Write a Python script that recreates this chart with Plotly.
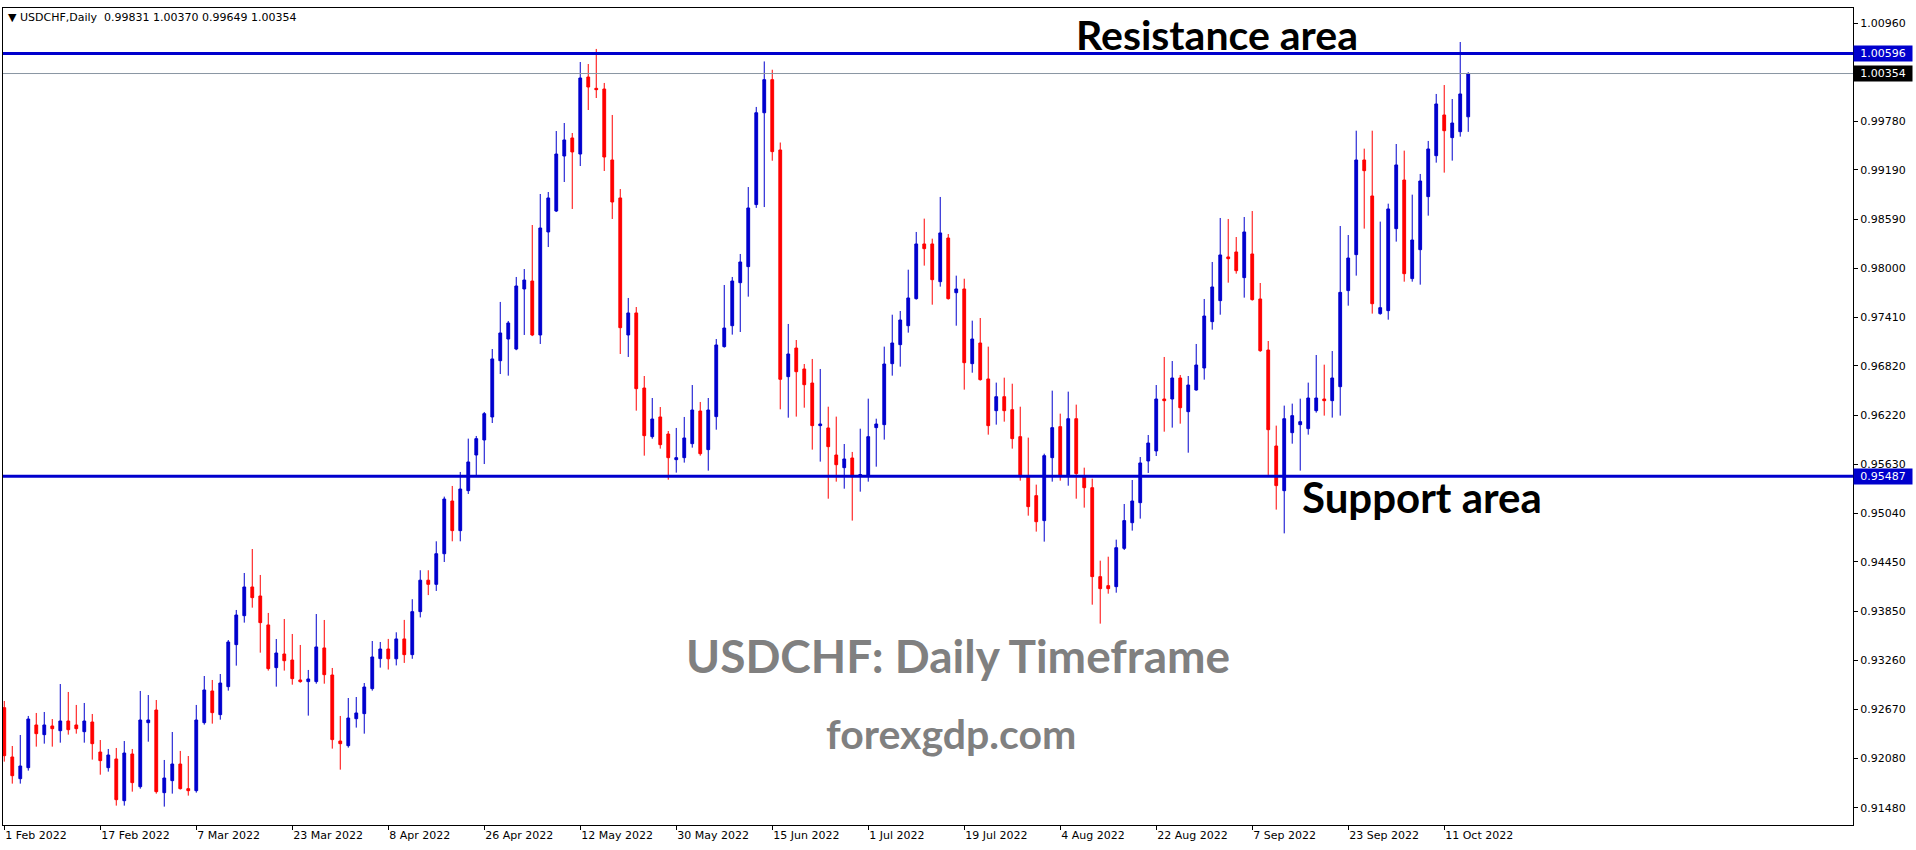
import plotly.graph_objects as go

# ---------------- data ----------------
open_ = [
0.92689,0.92093,0.91831,0.91964,0.92480,0.92363,0.92468,0.92411,0.92528,0.92480,
0.92399,0.92516,0.92153,0.91964,0.92069,0.91565,0.92129,0.91734,0.92508,0.92661,
0.91662,0.91807,0.92008,0.91710,0.91686,0.92508,0.92891,0.92605,0.92943,0.93451,
0.93801,0.94148,0.94039,0.93689,0.93173,0.93338,0.93265,0.93024,0.93004,0.93004,
0.93411,0.93084,0.92286,0.92230,0.92556,0.92617,0.92919,0.93282,0.93398,0.93280,
0.93520,0.93330,0.93850,0.94230,0.94180,0.94550,0.95187,0.94829,0.95312,0.95743,
0.95925,0.96203,0.96883,0.97145,0.97024,0.97750,0.97846,0.97194,0.98439,0.98692,
0.99357,0.99575,0.99381,1.00312,1.00175,1.00167,0.99309,0.98850,0.97194,0.97460,
0.96553,0.95965,0.96203,0.95997,0.95687,0.95711,0.95880,0.96275,0.95808,0.96207,
0.97053,0.97306,0.97826,0.98020,0.98770,0.99880,1.00280,0.99430,0.96690,0.97036,
0.96783,0.96613,0.96098,0.96070,0.95743,0.95590,0.95707,0.95489,0.95489,0.96074,
0.96110,0.96847,0.97077,0.97306,0.97633,0.98294,0.98294,0.97838,0.98366,0.97705,
0.97750,0.96847,0.97097,0.96662,0.96279,0.96448,0.96291,0.95965,0.95481,0.95252,
0.94950,0.95711,0.96086,0.95502,0.96182,0.95481,0.95348,0.94273,0.94164,0.94152,
0.94615,0.94925,0.95167,0.95671,0.95792,0.96420,0.96420,0.96674,0.96267,0.96529,
0.96795,0.97355,0.97609,0.98137,0.98197,0.97887,0.98173,0.97629,0.97012,0.95852,
0.95312,0.96013,0.96110,0.96062,0.96279,0.96420,0.96400,0.96569,0.97730,0.98165,
0.99309,0.98874,0.97452,0.97488,0.98479,0.99067,0.97875,0.98225,0.98866,0.99361,
0.99853,0.99579,0.99651,0.99831]
high = [
0.92770,0.92226,0.92359,0.92589,0.92625,0.92637,0.92552,0.92975,0.92879,0.92722,
0.92746,0.92613,0.92298,0.92190,0.92202,0.92286,0.92190,0.92891,0.92842,0.92782,
0.92057,0.92395,0.92166,0.92105,0.92722,0.93072,0.93024,0.93096,0.93507,0.93870,
0.94317,0.94607,0.94293,0.93834,0.93519,0.93761,0.93580,0.93447,0.93145,0.93821,
0.93749,0.93169,0.92589,0.92806,0.92818,0.92987,0.93495,0.93483,0.93520,0.93600,
0.93750,0.94000,0.94350,0.94350,0.94700,0.95240,0.95369,0.95538,0.95941,0.95973,
0.96263,0.97024,0.97593,0.97363,0.97895,0.97991,0.98523,0.98898,0.98922,0.99659,
0.99756,0.99635,1.00493,1.00469,1.00651,1.00240,0.99853,0.98958,0.97641,0.97532,
0.96698,0.96432,0.96323,0.96033,0.96070,0.96203,0.96589,0.96384,0.96432,0.97145,
0.97798,0.97895,0.98173,0.98982,0.99950,1.00500,1.00400,0.99520,0.97327,0.97133,
0.96843,0.96904,0.96783,0.96327,0.96207,0.95876,0.95780,0.96061,0.96424,0.96182,
0.97053,0.97439,0.97484,0.97983,0.98439,0.98600,0.98358,0.98862,0.98414,0.97911,
0.97874,0.97367,0.97399,0.97053,0.96618,0.96678,0.96605,0.96327,0.95953,0.95385,
0.95759,0.96521,0.96243,0.96509,0.96352,0.95590,0.95457,0.94466,0.94514,0.94720,
0.95151,0.95441,0.95719,0.95985,0.96589,0.96928,0.96879,0.96710,0.96698,0.97085,
0.97629,0.98076,0.98608,0.98596,0.98378,0.98620,0.98692,0.97822,0.97121,0.96098,
0.96340,0.96364,0.96424,0.96618,0.96952,0.96835,0.97000,0.98511,0.98402,0.99663,
0.99446,0.99663,0.98564,0.98781,0.99502,0.99422,0.98890,0.99140,0.99539,1.00107,
1.00215,1.00046,1.00735,1.00370]
low = [
0.92037,0.91771,0.91771,0.91928,0.92218,0.92254,0.92218,0.92266,0.92363,0.92375,
0.92266,0.92061,0.91879,0.91916,0.91505,0.91505,0.91674,0.91710,0.92278,0.91650,
0.91493,0.91650,0.91700,0.91626,0.91662,0.92484,0.92496,0.92544,0.92895,0.93197,
0.93717,0.93898,0.93354,0.93137,0.92943,0.93137,0.92967,0.92991,0.92593,0.92979,
0.92979,0.92194,0.91940,0.92206,0.92448,0.92375,0.92895,0.93173,0.93150,0.93200,
0.93230,0.93280,0.93780,0.94050,0.94100,0.94450,0.94700,0.94700,0.95272,0.95489,
0.95634,0.96130,0.96722,0.96702,0.97010,0.97194,0.97180,0.97085,0.98257,0.98680,
0.99043,0.98717,0.99236,0.99913,1.00058,0.99176,0.98596,0.96964,0.96928,0.96279,
0.95735,0.95940,0.95820,0.95445,0.95530,0.95651,0.95832,0.95735,0.95554,0.96049,
0.97041,0.97198,0.97230,0.97657,0.98730,0.98740,0.99300,0.96295,0.96194,0.96207,
0.96315,0.95808,0.95663,0.95215,0.95421,0.95336,0.94950,0.95300,0.95421,0.95602,
0.95929,0.96702,0.96811,0.97222,0.97621,0.98032,0.97560,0.97778,0.97621,0.97306,
0.96533,0.96738,0.96642,0.95989,0.96110,0.96146,0.95820,0.95433,0.95010,0.94817,
0.94696,0.95421,0.95433,0.95372,0.95215,0.95107,0.93934,0.93705,0.94067,0.94079,
0.94595,0.94829,0.94974,0.95526,0.95731,0.96025,0.96074,0.96122,0.95771,0.96521,
0.96654,0.97258,0.97439,0.97826,0.97935,0.97645,0.97609,0.96990,0.95502,0.95083,
0.94796,0.95880,0.95554,0.95989,0.96255,0.96219,0.96195,0.96219,0.97548,0.97911,
0.98479,0.97452,0.97439,0.97379,0.98322,0.97838,0.97838,0.97802,0.98636,0.99277,
0.99156,0.99301,0.99591,0.99649]
close = [
0.92109,0.91867,0.91984,0.92552,0.92375,0.92480,0.92435,0.92528,0.92423,0.92435,
0.92528,0.92254,0.92049,0.92117,0.91577,0.92141,0.91783,0.92540,0.92540,0.91674,
0.91839,0.92008,0.91710,0.91686,0.92540,0.92903,0.92629,0.92987,0.93483,0.93809,
0.94148,0.94019,0.93717,0.93161,0.93350,0.93257,0.93040,0.93004,0.93036,0.93423,
0.93088,0.92303,0.92254,0.92564,0.92625,0.92939,0.93302,0.93398,0.93280,0.93520,
0.93330,0.93850,0.94230,0.94180,0.94550,0.95211,0.94829,0.95332,0.95659,0.95941,
0.96243,0.96904,0.97218,0.97339,0.97786,0.97858,0.97194,0.98487,0.98850,0.99381,
0.99551,0.99406,1.00300,1.00191,1.00159,0.99345,0.98801,0.97282,0.97460,0.96545,
0.95977,0.96178,0.95868,0.95711,0.95711,0.95949,0.96287,0.95759,0.96287,0.97073,
0.97278,0.97846,0.98076,0.98729,0.99880,1.00280,0.99410,0.96658,0.96964,0.96750,
0.96593,0.96098,0.96118,0.95844,0.95626,0.95695,0.95481,0.95506,0.95965,0.96118,
0.96843,0.97097,0.97375,0.97641,0.98294,0.98237,0.97862,0.98427,0.97633,0.97750,
0.96859,0.97145,0.96654,0.96098,0.96448,0.96279,0.95941,0.95481,0.95119,0.94937,
0.95735,0.96074,0.95502,0.96182,0.95518,0.95348,0.94273,0.94128,0.94128,0.94623,
0.94950,0.95187,0.95647,0.95888,0.96420,0.96400,0.96674,0.96315,0.96589,0.96831,
0.97423,0.97774,0.98161,0.98116,0.97971,0.98439,0.97621,0.97004,0.96049,0.95373,
0.96182,0.96219,0.96146,0.96432,0.96432,0.96400,0.96674,0.97709,0.98124,0.99309,
0.99180,0.97572,0.97524,0.98717,0.99249,0.97935,0.98342,0.99055,0.99442,0.99986,
0.99663,0.99756,1.00107,1.00354]

bar_index = list(range(len(close)))

date_tick_pos = [0, 12, 24, 36, 48, 60, 72, 84, 96, 108, 120, 132, 144, 156, 168, 180]
date_tick_labels = ["1 Feb 2022", "17 Feb 2022", "7 Mar 2022", "23 Mar 2022", "8 Apr 2022",
                    "26 Apr 2022", "12 May 2022", "30 May 2022", "15 Jun 2022", "1 Jul 2022",
                    "19 Jul 2022", "4 Aug 2022", "22 Aug 2022", "7 Sep 2022", "23 Sep 2022",
                    "11 Oct 2022"]

price_ticks = [1.00960, 0.99780, 0.99190, 0.98590, 0.98000, 0.97410, 0.96820, 0.96220,
               0.95630, 0.95040, 0.94450, 0.93850, 0.93260, 0.92670, 0.92080, 0.91480]
price_tick_labels = ["%.5f" % v for v in price_ticks]

resistance_level = 1.00596
support_level = 0.95487
bid_level = 1.00354

header_text = "\u25bc USDCHF,Daily  0.99831 1.00370 0.99649 1.00354"

BLUE = "#0000CD"
RED = "#FF0000"

fig = go.Figure()
fig.add_trace(go.Candlestick(
    x=bar_index, open=open_, high=high, low=low, close=close,
    increasing=dict(line=dict(color=BLUE, width=1), fillcolor=BLUE),
    decreasing=dict(line=dict(color=RED, width=1), fillcolor=RED),
    whiskerwidth=0, hoverinfo="skip", showlegend=False,
))

# level lines
for lvl, col, w in [(resistance_level, BLUE, 3), (support_level, BLUE, 3), (bid_level, "#8A96A2", 1)]:
    fig.add_shape(type="line", xref="paper", x0=0, x1=1, yref="y", y0=lvl, y1=lvl,
                  line=dict(color=col, width=w), layer="above")

# price boxes on the axis
for lvl, bg in [(resistance_level, BLUE), (bid_level, "#000000"), (support_level, BLUE)]:
    fig.add_annotation(xref="paper", x=1, xanchor="left", xshift=0,
                       yref="y", y=lvl, yanchor="middle",
                       text="%.5f" % lvl, showarrow=False,
                       font=dict(family="DejaVu Sans", size=11, color="white"),
                       bgcolor=bg, width=56, height=13, borderpad=1, align="center")

# texts
fig.add_annotation(x=151.6, y=1.00830, text="<b>Resistance area</b>", showarrow=False,
                   font=dict(family="Lato", size=41, color="black"))
fig.add_annotation(x=177.2, y=0.95230, text="<b>Support area</b>", showarrow=False,
                   font=dict(family="Lato", size=42, color="black"))
fig.add_annotation(x=119.25, y=0.93314, text="<b>USDCHF: Daily Timeframe</b>", showarrow=False,
                   font=dict(family="Lato", size=46, color="#808080"))
fig.add_annotation(x=118.4, y=0.92371, text="<b>forexgdp.com</b>", showarrow=False,
                   font=dict(family="Lato", size=41, color="#808080"))
fig.add_annotation(xref="paper", yref="paper", x=0, y=1, xanchor="left", yanchor="top",
                   xshift=3, yshift=-1, text=header_text, showarrow=False,
                   font=dict(family="DejaVu Sans", size=11, color="black"))

fig.update_layout(
    width=1916, height=850,
    margin=dict(l=3, r=63, t=8, b=25),
    paper_bgcolor="white", plot_bgcolor="white",
    boxgap=0.5,
    xaxis=dict(range=[-0.16, 231.1], rangeslider=dict(visible=False),
               tickmode="array", tickvals=date_tick_pos, ticktext=date_tick_labels,
               ticks="outside", ticklen=4, tickcolor="black",
               ticklabelposition="outside right",
               tickfont=dict(family="DejaVu Sans", size=11, color="black"),
               showgrid=False, zeroline=False,
               showline=True, linecolor="black", linewidth=1, mirror=True),
    yaxis=dict(range=[0.91271, 1.01146], side="right",
               tickmode="array", tickvals=price_ticks, ticktext=price_tick_labels,
               ticks="outside", ticklen=4, tickcolor="black",
               tickfont=dict(family="DejaVu Sans", size=11, color="black"),
               showgrid=False, zeroline=False,
               showline=True, linecolor="black", linewidth=1, mirror=True),
)

fig.write_html("out.html",
               config={"displayModeBar": False},
               post_script="document.body.style.margin='0px';document.body.style.padding='0px';"
                           "document.documentElement.style.overflow='hidden';")
